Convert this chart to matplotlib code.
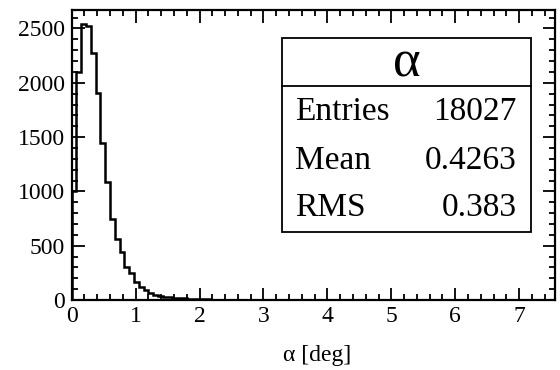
import numpy as np
import matplotlib
matplotlib.use("Agg")
import matplotlib.pyplot as plt
from matplotlib.patches import Rectangle
from matplotlib.ticker import MultipleLocator

# ===== DATA =====
bin_width = 0.075
counts = [1000, 2100, 2540, 2523, 2271, 1903, 1448, 1089, 744, 560,
          446, 307, 246, 169, 123, 92, 68, 46, 37, 30,
          28, 22, 20, 15, 13, 10, 8, 8, 6, 5,
          4, 4, 3, 3, 2, 2, 2, 1, 1, 1]
stat_title = "\u03b1"
stat_names = ["Entries", "Mean", "RMS"]
stat_values = ["18027", "0.4263", "0.383"]
x_label = "\u03b1 [deg]"

plt.rcParams['font.family'] = ['Liberation Serif', 'DejaVu Serif']

edges = np.arange(len(counts) + 1) * bin_width

# ===== FIG =====
fig = plt.figure(figsize=(5.6, 3.7), dpi=100)
ax = fig.add_axes([0.128, 0.189, 0.863, 0.784])

ax.stairs(counts, edges, color="black", linewidth=1.8, baseline=0)

ax.set_xlim(0, 7.56)
ax.set_ylim(0, 2670)

# ===== ROOT-like axes =====
for s in ax.spines.values():
    s.set_linewidth(1.6)
ax.xaxis.set_major_locator(MultipleLocator(1))
ax.xaxis.set_minor_locator(MultipleLocator(0.2))
ax.yaxis.set_major_locator(MultipleLocator(500))
ax.yaxis.set_minor_locator(MultipleLocator(100))
ax.tick_params(which="both", direction="in", top=True, right=True, width=1.3)
ax.tick_params(which="major", length=9)
ax.tick_params(which="minor", length=4.5)
ax.tick_params(axis="x", which="major", labelsize=17, pad=4)
ax.tick_params(axis="y", which="major", labelsize=17, pad=5)

ax.set_xlabel(x_label, fontsize=17)
ax.xaxis.set_label_coords(0.508, -0.19)
ax.xaxis.label.set_va("center")

# ===== STAT BOX =====
bx0, bx1, by0, by1, bsep = 0.435, 0.950, 0.234, 0.903, 0.738
ax.add_patch(Rectangle((bx0, by0), bx1 - bx0, by1 - by0, transform=ax.transAxes,
                       facecolor="white", edgecolor="black", linewidth=1.3, zorder=5))
ax.plot([bx0, bx1], [bsep, bsep], transform=ax.transAxes, color="black",
        linewidth=1.3, zorder=6)
ax.text((bx0 + bx1) / 2, 0.815, stat_title, transform=ax.transAxes, fontsize=38,
        ha="center", va="center", zorder=7)
row_y = [0.648, 0.479, 0.317]
for name, val, yy in zip(stat_names, stat_values, row_y):
    ax.text(0.463, yy, name, transform=ax.transAxes, fontsize=24,
            ha="left", va="center", zorder=7)
    ax.text(0.921, yy, val, transform=ax.transAxes, fontsize=24,
            ha="right", va="center", zorder=7)

fig.savefig("out.png", dpi=100)
